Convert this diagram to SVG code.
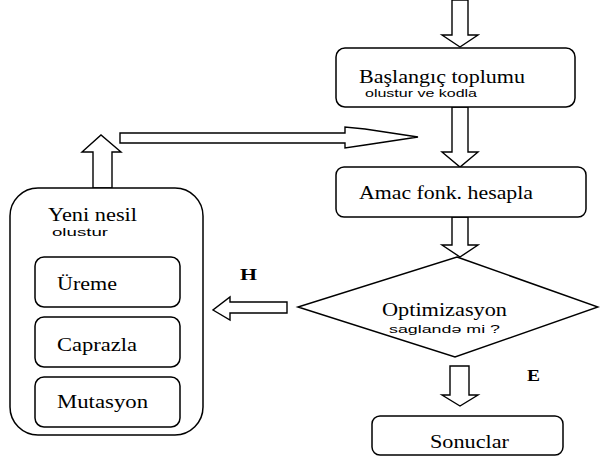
<svg xmlns="http://www.w3.org/2000/svg" width="600" height="459" viewBox="0 0 600 459">
<style>
.box{fill:#fff;stroke:#000;stroke-width:1.5}
.arr{fill:#fff;stroke:#000;stroke-width:1.4;stroke-linejoin:miter}
text.serif{font-family:'Liberation Serif','Times New Roman',serif;font-size:18px;fill:#000}
text.sans{font-family:'Liberation Sans',Arial,sans-serif;font-size:11px;fill:#000}
text.bold{font-family:'Liberation Serif','Times New Roman',serif;font-size:16px;font-weight:bold;fill:#000}
</style>
<rect width="600" height="459" fill="#fff"/>
<g id="connectors">
  <polygon class="arr" points="452,0 468,0 468,35 478,35 460,47 442,35 452,35"/>
  <polygon class="arr" points="452,107 468,107 468,152 478,152 460,167 442,152 452,152"/>
  <polygon class="arr" points="452,217 468,217 468,245 478,245 460,257 442,245 452,245"/>
  <polygon class="arr" points="450,366 469,366 469,395 478,395 460,406 442,395 450,395"/>
  <polygon class="arr" points="287,302 287,313 230,313 230,320 213,310 230,297 230,302"/>
  <polygon class="arr" points="93,188 93,152 82,152 101,135 121,152 112,152 112,188"/>
  <polygon class="arr" points="120,133 345,133 345,127 365,129 418,137 365,145 345,148 345,143 120,143"/>
  <text class="bold" x="240" y="280" textLength="17" lengthAdjust="spacingAndGlyphs">H</text>
  <text class="bold" x="527" y="381" textLength="13" lengthAdjust="spacingAndGlyphs">E</text>
</g>
<g id="baslangic">
  <rect class="box" x="336" y="48" width="239" height="59" rx="9"/>
  <text class="serif" x="359" y="83" font-family="Liberation Serif, serif" textLength="166" lengthAdjust="spacingAndGlyphs">Başlangıç toplumu</text>
  <text class="sans" x="365" y="97" textLength="112" lengthAdjust="spacingAndGlyphs">olustur ve kodla</text>
</g>
<g id="amac">
  <rect class="box" x="336" y="167" width="250" height="50" rx="8"/>
  <text class="serif" x="359" y="199" textLength="174" lengthAdjust="spacingAndGlyphs">Amac fonk. hesapla</text>
</g>
<g id="optimizasyon">
  <polygon class="box" points="457,257 598,307 455,357 298,307"/>
  <text class="serif" x="382" y="316" textLength="125" lengthAdjust="spacingAndGlyphs">Optimizasyon</text>
  <text class="sans" x="389" y="333" textLength="111" lengthAdjust="spacingAndGlyphs">saglandə mi ?</text>
</g>
<g id="sonuclar">
  <rect class="box" x="372" y="416" width="191" height="39" rx="8"/>
  <text class="serif" x="430" y="448" textLength="79" lengthAdjust="spacingAndGlyphs">Sonuclar</text>
</g>
<g id="yeni-nesil">
  <rect class="box" x="10" y="188" width="193" height="247" rx="28"/>
  <text class="serif" x="48" y="221" textLength="89" lengthAdjust="spacingAndGlyphs">Yeni nesil</text>
  <text class="sans" x="52" y="236" textLength="56" lengthAdjust="spacingAndGlyphs">olustur</text>
</g>
<g id="ureme">
  <rect class="box" x="35" y="257" width="145" height="50" rx="9"/>
  <text class="serif" x="57" y="290" textLength="60" lengthAdjust="spacingAndGlyphs">Üreme</text>
</g>
<g id="caprazla">
  <rect class="box" x="35" y="317" width="145" height="50" rx="9"/>
  <text class="serif" x="57" y="351" textLength="80" lengthAdjust="spacingAndGlyphs">Caprazla</text>
</g>
<g id="mutasyon">
  <rect class="box" x="35" y="377" width="145" height="50" rx="9"/>
  <text class="serif" x="57" y="408" textLength="91" lengthAdjust="spacingAndGlyphs">Mutasyon</text>
</g>
</svg>
